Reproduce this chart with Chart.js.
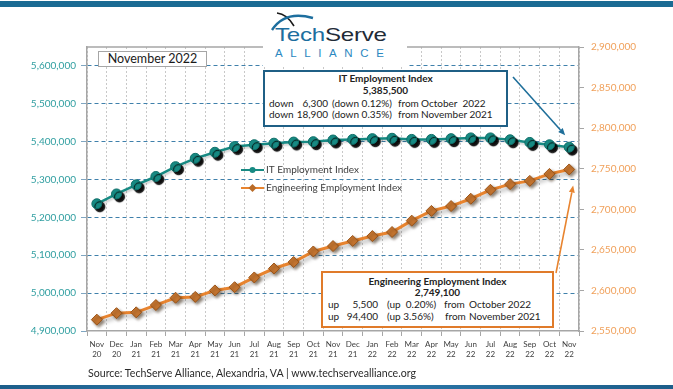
<!DOCTYPE html>
<html>
<head>
<meta charset="utf-8">
<script src="https://cdn.jsdelivr.net/npm/chart.js@4.4.1/dist/chart.umd.min.js"></script>
<style>
  html, body { margin: 0; padding: 0; background: #fff; }
  #wrap { position: relative; width: 673px; height: 389px; overflow: hidden; font-family: Lato, 'Open Sans', sans-serif; color: #222; }
  #chart { position: absolute; left: 0; top: 0; }
  .abs { position: absolute; white-space: nowrap; line-height: 12px; font-size: 10px; }
  .bar-top { position: absolute; left: 0; top: 1px; width: 673px; height: 6px; background: #1a6b93; }
  .bar-bottom { position: absolute; left: 0; top: 385px; width: 673px; height: 4px;
    background: linear-gradient(90deg, #1d5e8a 0%, #2f7db0 45%, #1d5e8a 100%); }
  .logo { position: absolute; left: 263px; top: 8px; width: 144px; height: 59px; background: #fff; }
  .logo .name { position: absolute; left: 12px; top: 17px; font-family: 'Liberation Sans', Arial, sans-serif;
    font-size: 19px; line-height: 20px; transform: scaleX(1.27); transform-origin: left top; letter-spacing: -0.2px; }
  .logo .tech { color: #1d6e9e; }
  .logo .serve { color: #1f2b37; }
  .logo .alliance { position: absolute; left: 12px; top: 39px; font-family: 'Liberation Sans', Arial, sans-serif;
    font-size: 11.5px; line-height: 12px; letter-spacing: 7.6px; color: #2b88c0; }
  .datebox { position: absolute; left: 98px; top: 51px; width: 109px; height: 16px; box-sizing: border-box;
    border: 1px solid #a6a6a6; background: #fff; font-size: 12.5px; line-height: 14px; text-align: center; color: #1a1a1a; }
  .callout { position: absolute; box-sizing: border-box; background: #fff; }
  .it-box { left: 263px; top: 70px; width: 245px; height: 57px; border: 2px solid #1f5f85; }
  .eng-box { left: 321px; top: 271px; width: 233px; height: 57px; border: 2px solid #e07b2a; }
  .center { text-align: center; font-weight: bold; }
  .source { position: absolute; left: 88px; top: 366px; font-size: 10.6px; line-height: 14px; color: #2a2a2a; white-space: nowrap; }
</style>
</head>
<body>
<div id="wrap">
  <canvas id="chart" width="673" height="389"></canvas>

  <div class="bar-top"></div>
  <div class="bar-bottom"></div>

  <div class="logo">
    <svg width="144" height="30" style="position:absolute;left:0;top:0">
      <path d="M 14 5 Q 24 6 31 18" stroke="#1a1a1a" stroke-width="1.6" fill="none"/>
      <path d="M 9 22 Q 22 2 50 10" stroke="#1d6e9e" stroke-width="2.4" fill="none"/>
    </svg>
    <div class="name"><span class="tech">Tech</span><span class="serve">Serve</span></div>
    <div class="alliance">ALLIANCE</div>
  </div>

  <div class="datebox">November 2022</div>

  <div class="callout it-box"></div>
  <div class="abs center" style="left:263px;width:245px;top:72px">IT Employment Index</div>
  <div class="abs center" style="left:263px;width:245px;top:84px">5,385,500</div>
  <div class="abs" style="left:269px;top:97px">down</div>
  <div class="abs" style="right:345px;top:97px">6,300</div>
  <div class="abs" style="left:332px;top:97px">(down 0.12%)</div>
  <div class="abs" style="left:398px;top:97px">from</div>
  <div class="abs" style="left:421px;top:97px">October&nbsp; 2022</div>
  <div class="abs" style="left:269px;top:108px">down</div>
  <div class="abs" style="right:345px;top:108px">18,900</div>
  <div class="abs" style="left:332px;top:108px">(down 0.35%)</div>
  <div class="abs" style="left:398px;top:108px">from</div>
  <div class="abs" style="left:421px;top:108px">November 2021</div>

  <div class="callout eng-box"></div>
  <div class="abs center" style="left:321px;width:233px;top:275px">Engineering Employment Index</div>
  <div class="abs center" style="left:321px;width:233px;top:286px">2,749,100</div>
  <div class="abs" style="left:328px;top:298px">up</div>
  <div class="abs" style="right:295px;top:298px">5,500</div>
  <div class="abs" style="left:387px;top:298px">(up&nbsp; 0.20%)</div>
  <div class="abs" style="left:444px;top:298px">from</div>
  <div class="abs" style="left:469px;top:298px">October 2022</div>
  <div class="abs" style="left:328px;top:310px">up</div>
  <div class="abs" style="right:295px;top:310px">94,400</div>
  <div class="abs" style="left:387px;top:310px">(up 3.56%)</div>
  <div class="abs" style="left:445px;top:310px">from</div>
  <div class="abs" style="left:469px;top:310px">November 2021</div>

  <div class="source">Source: TechServe Alliance, Alexandria, VA | www.techservealliance.org</div>
</div>

<script>
// monthly labels, Nov 2020 - Nov 2022
const MONTHS = ['Nov', 'Dec', 'Jan', 'Feb', 'Mar', 'Apr', 'May', 'Jun', 'Jul', 'Aug', 'Sep', 'Oct',
                'Nov', 'Dec', 'Jan', 'Feb', 'Mar', 'Apr', 'May', 'Jun', 'Jul', 'Aug', 'Sep', 'Oct', 'Nov'];
const YEARS = ['20', '20', '21', '21', '21', '21', '21', '21', '21', '21', '21', '21',
               '21', '21', '22', '22', '22', '22', '22', '22', '22', '22', '22', '22', '22'];

// IT Employment Index (left axis)
const IT_INDEX = [5236000, 5262000, 5286000, 5308000, 5334000, 5356000, 5372000, 5387000, 5392000,
                  5396000, 5399000, 5400000, 5404400, 5406000, 5408000, 5409000, 5406000, 5406000,
                  5408000, 5410000, 5410000, 5405000, 5398000, 5391800, 5385500];

// Engineering Employment Index (right axis)
const ENG_INDEX = [2564000, 2572000, 2573000, 2582000, 2591000, 2592000, 2600000, 2604000, 2616000,
                   2627000, 2635000, 2648000, 2654700, 2661000, 2667000, 2672000, 2686000, 2698000,
                   2704000, 2713000, 2724000, 2731000, 2735000, 2743600, 2749100];

// left axis tick labels (axis itself runs to 5,650,000)
const IT_TICKS = [4900000, 5000000, 5100000, 5200000, 5300000, 5400000, 5500000, 5600000];

const IT_COLOR = '#178a83';
const ENG_COLOR = '#e8842f';
const FONT = 'Lato, "Open Sans", sans-serif';

const labels = MONTHS.map((m, i) => [m, YEARS[i]]);

// per-dataset drop shadows
const shadowPlugin = {
    id: 'shadows',
    beforeDatasetDraw(chart, args) {
        const s = chart.data.datasets[args.index].shadow;
        if (!s) return;
        const ctx = chart.ctx;
        ctx.save();
        ctx.shadowColor = s.color;
        ctx.shadowOffsetX = s.x;
        ctx.shadowOffsetY = s.y;
        ctx.shadowBlur = s.blur;
    },
    afterDatasetDraw(chart, args) {
        if (chart.data.datasets[args.index].shadow) chart.ctx.restore();
    }
};

// top edge of the plot frame
const framePlugin = {
    id: 'frame',
    beforeDatasetsDraw(chart) {
        const { ctx, chartArea: a } = chart;
        ctx.save();
        ctx.strokeStyle = '#a6a6a6';
        ctx.lineWidth = 1.5;
        ctx.beginPath();
        ctx.moveTo(a.left, a.top);
        ctx.lineTo(a.right, a.top);
        ctx.stroke();
        ctx.restore();
    }
};

// legend inside the plot
const legendPlugin = {
    id: 'innerLegend',
    afterDatasetsDraw(chart) {
        const ctx = chart.ctx;
        const items = [
            { ds: chart.data.datasets[0], y: 170, marker: 'circle' },
            { ds: chart.data.datasets[2], y: 188, marker: 'diamond' }
        ];
        ctx.save();
        items.forEach(it => {
            ctx.strokeStyle = it.ds.borderColor;
            ctx.lineWidth = 2;
            ctx.beginPath();
            ctx.moveTo(241, it.y);
            ctx.lineTo(264, it.y);
            ctx.stroke();
            ctx.fillStyle = it.marker === 'circle' ? IT_COLOR : '#b96b27';
            ctx.beginPath();
            if (it.marker === 'circle') {
                ctx.arc(252.5, it.y, 3, 0, Math.PI * 2);
            } else {
                ctx.moveTo(252.5, it.y - 4);
                ctx.lineTo(256.5, it.y);
                ctx.lineTo(252.5, it.y + 4);
                ctx.lineTo(248.5, it.y);
                ctx.closePath();
            }
            ctx.fill();
            ctx.fillStyle = '#404040';
            ctx.font = '10px ' + FONT;
            ctx.textBaseline = 'middle';
            ctx.fillText(it.ds.label, 266, it.y);
        });
        ctx.restore();
    }
};

function drawArrow(ctx, x0, y0, x1, y1, color) {
    const ang = Math.atan2(y1 - y0, x1 - x0);
    const len = 7, half = 3;
    ctx.save();
    ctx.strokeStyle = color;
    ctx.fillStyle = color;
    ctx.lineWidth = 1.6;
    ctx.beginPath();
    ctx.moveTo(x0, y0);
    ctx.lineTo(x1 - Math.cos(ang) * len, y1 - Math.sin(ang) * len);
    ctx.stroke();
    ctx.beginPath();
    ctx.moveTo(x1, y1);
    ctx.lineTo(x1 - Math.cos(ang) * len - Math.sin(ang) * half, y1 - Math.sin(ang) * len + Math.cos(ang) * half);
    ctx.lineTo(x1 - Math.cos(ang) * len + Math.sin(ang) * half, y1 - Math.sin(ang) * len - Math.cos(ang) * half);
    ctx.closePath();
    ctx.fill();
    ctx.restore();
}

// callout arrows pointing at the latest month
const arrowPlugin = {
    id: 'calloutArrows',
    afterDatasetsDraw(chart) {
        const { ctx, scales: { x, y, y1 } } = chart;
        const last = IT_INDEX.length - 1;
        const px = x.getPixelForValue(last);
        drawArrow(ctx, 513, 77, px - 4, y.getPixelForValue(IT_INDEX[last]) - 12, '#1f6f9a');
        drawArrow(ctx, 556, 273, px + 4, y1.getPixelForValue(ENG_INDEX[last]) + 16, ENG_COLOR);
    }
};

const fmt = v => Number(v).toLocaleString('en-US');

new Chart(document.getElementById('chart'), {
    type: 'line',
    data: {
        labels: labels,
        datasets: [
            {
                label: 'IT Employment Index',
                data: IT_INDEX,
                yAxisID: 'y',
                borderColor: IT_COLOR,
                borderWidth: 2.5,
                pointRadius: 0,
                tension: 0,
                order: 2,
                shadow: { color: 'rgba(0,0,0,0.18)', x: 1, y: 2, blur: 2 }
            },
            {
                label: 'IT Employment Index points',
                data: IT_INDEX,
                yAxisID: 'y',
                showLine: false,
                pointRadius: 5,
                pointBackgroundColor: IT_COLOR,
                pointBorderColor: '#0f6e68',
                pointBorderWidth: 1,
                order: 0,
                shadow: { color: 'rgba(0,0,0,0.95)', x: 3, y: 3, blur: 1 }
            },
            {
                label: 'Engineering Employment Index',
                data: ENG_INDEX,
                yAxisID: 'y1',
                borderColor: ENG_COLOR,
                borderWidth: 3,
                pointRadius: 0,
                tension: 0,
                order: 3,
                shadow: { color: 'rgba(0,0,0,0.3)', x: 2, y: 3, blur: 4 }
            },
            {
                label: 'Engineering Employment Index points',
                data: ENG_INDEX,
                yAxisID: 'y1',
                showLine: false,
                pointStyle: 'rectRot',
                pointRadius: 5.5,
                pointBackgroundColor: '#c57530',
                pointBorderColor: '#9a5418',
                pointBorderWidth: 1,
                order: 1,
                shadow: { color: 'rgba(60,35,10,0.5)', x: 2, y: 2, blur: 3 }
            }
        ]
    },
    options: {
        responsive: false,
        devicePixelRatio: 1,
        animation: false,
        layout: { padding: { top: 47, left: 0, right: 0, bottom: 0 } },
        plugins: {
            legend: { display: false },
            tooltip: { enabled: false }
        },
        scales: {
            x: {
                offset: true,
                grid: {
                    offset: true,
                    color: '#c8c8c8',
                    tickColor: '#a6a6a6',
                    tickLength: 5
                },
                border: { color: '#a6a6a6', width: 1.5, dash: [2, 2] },
                ticks: {
                    autoSkip: false,
                    maxRotation: 0,
                    padding: 3,
                    color: '#404040',
                    font: { family: FONT, size: 8, lineHeight: 1.25 }
                },
                afterFit: s => { s.height = 58; }
            },
            y: {
                position: 'left',
                min: 4900000,
                max: 5650000,
                bounds: 'data',
                afterBuildTicks: s => { s.ticks = IT_TICKS.map(v => ({ value: v })); },
                grid: {
                    color: ctx => ctx.tick && ctx.tick.value === 4900000 ? 'rgba(0,0,0,0)' : '#3f80ab',
                    tickColor: '#7fa6c2',
                    tickLength: 6
                },
                border: { color: '#a6a6a6', width: 1.5, dash: [4, 3] },
                ticks: {
                    padding: 5,
                    color: '#2f9ea0',
                    font: { family: FONT, size: 10 },
                    callback: fmt
                },
                afterFit: s => { s.width = 87; }
            },
            y1: {
                position: 'right',
                min: 2550000,
                max: 2900000,
                grid: {
                    drawOnChartArea: false,
                    color: '#a6a6a6',
                    tickLength: 5
                },
                border: { color: '#a6a6a6', width: 1.5 },
                ticks: {
                    stepSize: 50000,
                    padding: 7,
                    color: '#f0a05a',
                    font: { family: FONT, size: 10 },
                    callback: fmt
                },
                afterFit: s => { s.width = 94; }
            }
        }
    },
    plugins: [shadowPlugin, framePlugin, legendPlugin, arrowPlugin]
});
</script>
</body>
</html>
